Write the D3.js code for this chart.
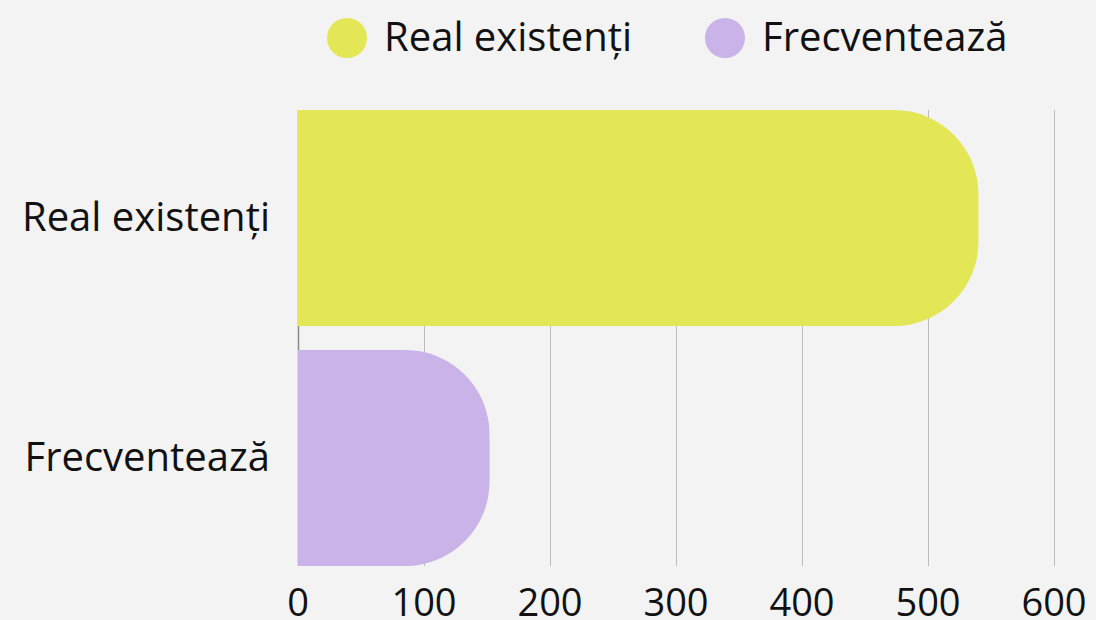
<!DOCTYPE html>
<html>
<head>
<meta charset="utf-8">
<script src="https://cdn.jsdelivr.net/npm/d3@7/dist/d3.min.js"></script>
<style>
  html, body { margin: 0; padding: 0; background: #f3f3f3; }
  svg { display: block; font-family: "Open Sans", "Noto Sans", sans-serif; }
</style>
</head>
<body>
<svg id="chart" width="1096" height="620"></svg>
<script>
// Data
const categories = ["Real existenți", "Frecventează"];
const values = [540, 152];
const colors = ["#e3e655", "#c9b3e8"];
const tickValues = [0, 100, 200, 300, 400, 500, 600];

const W = 1096, H = 620;
const margin = { top: 110, right: 42, bottom: 54, left: 298 };

const svg = d3.select("#chart");

const x = d3.scaleLinear()
  .domain([0, 600])
  .range([margin.left, W - margin.right]);

const y = d3.scaleBand()
  .domain(categories)
  .range([margin.top, H - margin.bottom])
  .paddingInner(0.1)
  .paddingOuter(0);

// Vertical grid lines
svg.append("g")
  .selectAll("line")
  .data(tickValues)
  .join("line")
  .attr("x1", d => Math.round(x(d)) + 0.5)
  .attr("x2", d => Math.round(x(d)) + 0.5)
  .attr("y1", margin.top)
  .attr("y2", H - margin.bottom)
  .attr("stroke", d => d === 0 ? "#8a8a8a" : "#bdbdbd")
  .attr("stroke-width", d => d === 0 ? 1.5 : 1);

// Bars with rounded right end
function barPath(v, cat) {
  const x0 = x(0), x1 = x(v);
  const y0 = y(cat), h = y.bandwidth(), y1 = y0 + h;
  const r = Math.min(h * 0.39, (x1 - x0));
  return `M${x0},${y0}H${x1 - r}A${r},${r} 0 0 1 ${x1},${y0 + r}` +
         `V${y1 - r}A${r},${r} 0 0 1 ${x1 - r},${y1}H${x0}Z`;
}

svg.append("g")
  .selectAll("path")
  .data(categories)
  .join("path")
  .attr("d", (c, i) => barPath(values[i], c))
  .attr("fill", (c, i) => colors[i]);

// Category labels
svg.append("g")
  .selectAll("text")
  .data(categories)
  .join("text")
  .attr("x", margin.left - 28)
  .attr("y", c => y(c) + y.bandwidth() / 2)
  .attr("dy", "0.33em")
  .attr("text-anchor", "end")
  .attr("font-size", 40)
  .attr("fill", "#111")
  .text(c => c);

// X axis tick labels
svg.append("g")
  .selectAll("text")
  .data(tickValues)
  .join("text")
  .attr("x", d => x(d))
  .attr("y", 616)
  .attr("text-anchor", "middle")
  .attr("font-size", 38)
  .attr("fill", "#111")
  .text(d => d);

// Legend
const legendX = [347, 725];
const legend = svg.append("g")
  .selectAll("g")
  .data(categories)
  .join("g")
  .attr("transform", (c, i) => `translate(${legendX[i]},38)`);

legend.append("circle")
  .attr("r", 20)
  .attr("fill", (c, i) => colors[i]);

legend.append("text")
  .attr("x", 37)
  .attr("dy", "0.33em")
  .attr("font-size", 40)
  .attr("fill", "#111")
  .text(c => c);
</script>
</body>
</html>
